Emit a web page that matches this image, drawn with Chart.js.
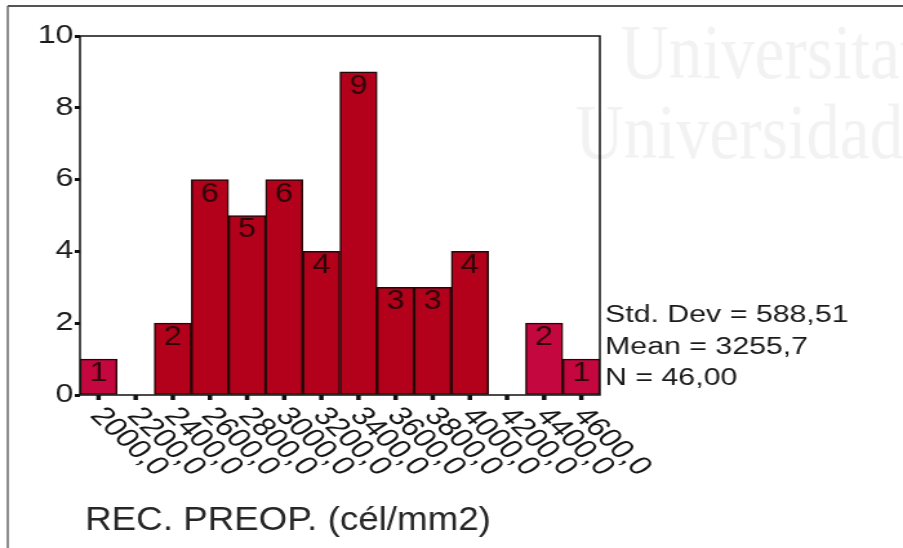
<!DOCTYPE html>
<html>
<head>
<meta charset="utf-8">
<script src="https://cdn.jsdelivr.net/npm/chart.js@4"></script>
<style>
  html, body { margin: 0; padding: 0; background: #fff; overflow: hidden; }
  /* the scanned chart is stretched sideways, so stretch the canvas the same way */
  #wrap { width: 700px; height: 548px; transform: scaleX(1.29); transform-origin: 0 0; }
  canvas { display: block; }
</style>
</head>
<body>
<div id="wrap"><canvas id="hist" width="700" height="548"></canvas></div>
<script>
// histogram bins and counts
const binLabels = ['2000,0', '2200,0', '2400,0', '2600,0', '2800,0', '3000,0', '3200,0',
                   '3400,0', '3600,0', '3800,0', '4000,0', '4200,0', '4400,0', '4600,0'];
const counts = [1, 0, 2, 6, 5, 6, 4, 9, 3, 3, 4, 0, 2, 1];
const yTicks = [0, 2, 4, 6, 8, 10];
const statLines = ['Std. Dev = 588,51', 'Mean = 3255,7', 'N = 46,00'];
const axisTitle = 'REC. PREOP. (cél/mm2)';
const watermark = ['Universitat', 'Universidad'];

const FONT = "'Liberation Sans', Arial, sans-serif";
Chart.defaults.font.family = FONT;

// outer bins look a bit more magenta in the scan
const barColors = counts.map((v, i) => (i === 0 || i >= 12) ? '#c4073f' : '#b3001b');

// text that is a little taller than it is wide, like the scan
function tallText(c, text, x, y, sy) {
    c.save();
    c.translate(x, y);
    c.scale(1, sy);
    c.fillText(text, 0, 0);
    c.restore();
}

const decor = {
    id: 'decor',
    beforeDraw(chart) {
        const c = chart.ctx;
        c.save();
        c.fillStyle = '#f2f2f2';
        c.font = "52px 'Liberation Serif', serif";
        tallText(c, watermark[0], 481, 78, 1.5);
        tallText(c, watermark[1], 446, 158, 1.5);

        // page frame lines from the scan
        c.strokeStyle = '#555';
        c.lineWidth = 2;
        c.beginPath(); c.moveTo(6, 6); c.lineTo(700, 6); c.stroke();
        c.lineWidth = 1.5;
        c.strokeStyle = '#666';
        c.beginPath(); c.moveTo(6, 6); c.lineTo(6, 548); c.stroke();
        c.restore();
    },
    afterDatasetsDraw(chart) {
        const c = chart.ctx;
        const area = chart.chartArea;
        const bars = chart.getDatasetMeta(0).data;

        c.save();
        // plot box
        c.strokeStyle = '#111';
        c.lineWidth = 1.5;
        c.strokeRect(area.left, area.top, area.right - area.left, area.bottom - area.top);

        // x tick marks at bin centres
        c.lineWidth = 3.5;
        bars.forEach(b => {
            c.beginPath(); c.moveTo(b.x, area.bottom); c.lineTo(b.x, area.bottom + 5); c.stroke();
        });

        // counts inside the bars
        c.fillStyle = '#2e0609';
        c.font = '25px ' + FONT;
        c.textAlign = 'center';
        c.textBaseline = 'top';
        bars.forEach((b, i) => {
            if (counts[i] > 0) tallText(c, String(counts[i]), b.x, b.y + 1, 1.08);
        });

        // slanted bin labels, running down-right from each tick
        c.fillStyle = '#151515';
        c.font = '26px ' + FONT;
        c.textAlign = 'left';
        c.textBaseline = 'top';
        bars.forEach((b, i) => {
            c.save();
            c.translate(b.x + 8, area.bottom + 8);
            c.rotate(50 * Math.PI / 180);
            c.fillText(binLabels[i], 0, 0);
            c.restore();
        });

        // summary statistics
        c.fillStyle = '#1a1a1a';
        c.font = '23.5px ' + FONT;
        c.textBaseline = 'alphabetic';
        statLines.forEach((t, i) => tallText(c, t, 469, 322 + i * 31.5, 1.03));

        // axis title
        c.fillStyle = '#262626';
        c.font = '28.5px ' + FONT;
        tallText(c, axisTitle, 66, 530, 1.15);
        c.restore();
    }
};

new Chart(document.getElementById('hist'), {
    type: 'bar',
    data: {
        labels: binLabels,
        datasets: [{
            data: counts,
            backgroundColor: barColors,
            borderColor: '#240707',
            borderWidth: 1.5,
            borderSkipped: false,
            categoryPercentage: 1,
            barPercentage: 1
        }]
    },
    options: {
        responsive: false,
        animation: false,
        devicePixelRatio: 1,
        layout: { padding: { left: 0, top: 36, right: 235, bottom: 153 } },
        plugins: { legend: { display: false }, tooltip: { enabled: false } },
        scales: {
            x: { display: false },
            y: {
                min: 0,
                max: 10,
                afterFit: s => { s.width = 62; },
                afterBuildTicks: s => { s.ticks = yTicks.map(v => ({ value: v })); },
                ticks: { color: '#1a1a1a', font: { size: 25 }, padding: 1 },
                grid: { drawOnChartArea: false, tickLength: 4, tickWidth: 3, color: '#111' },
                border: { display: false }
            }
        }
    },
    plugins: [decor]
});
</script>
</body>
</html>
